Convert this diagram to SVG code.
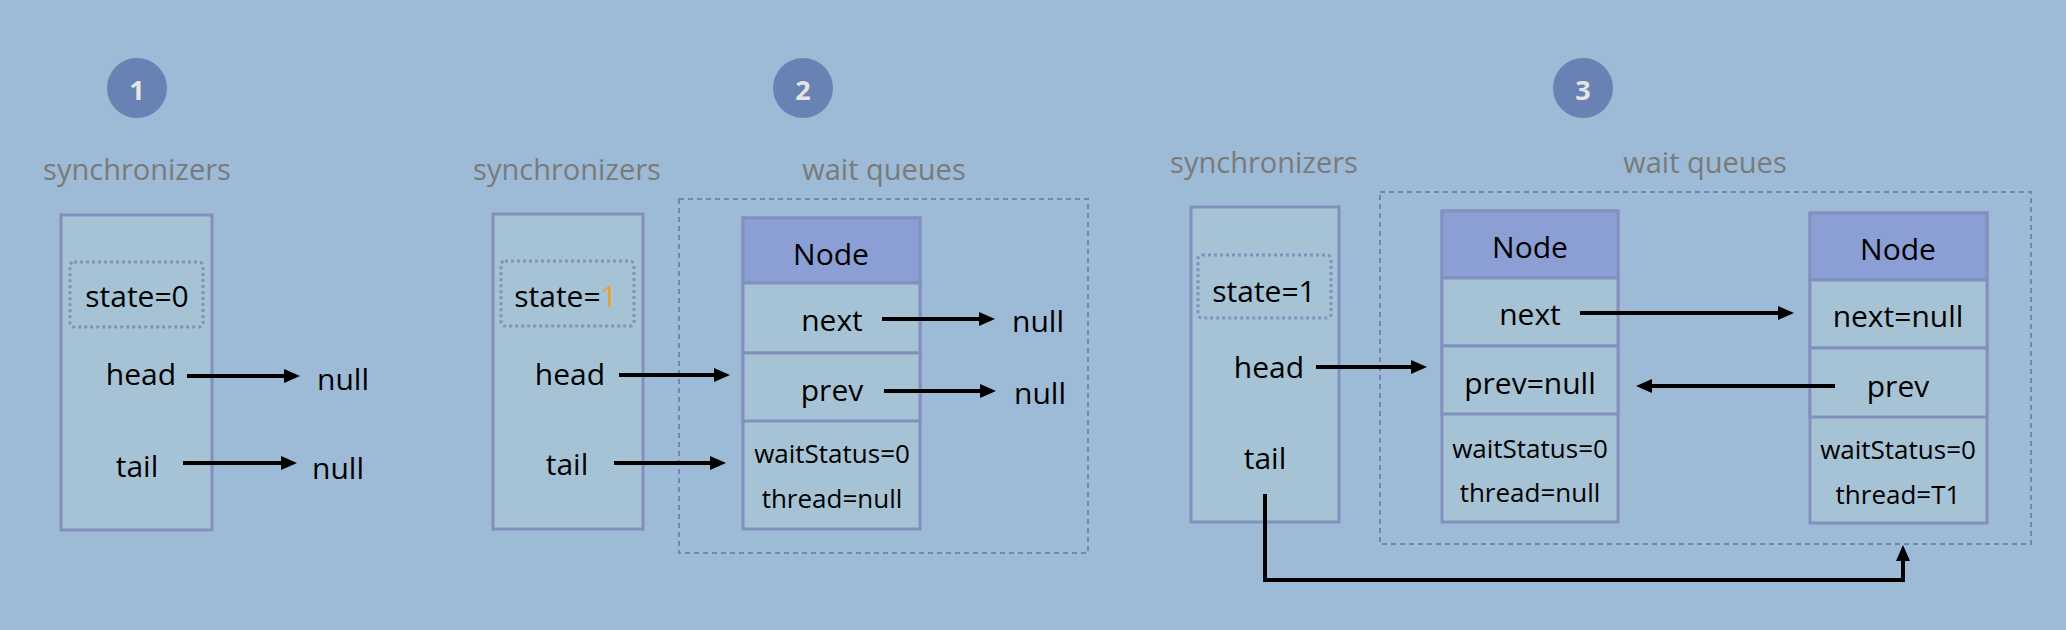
<svg xmlns="http://www.w3.org/2000/svg" width="2066" height="630" viewBox="0 0 2066 630">
<style>
text{font-family:"Open Sans","Liberation Sans",sans-serif;text-anchor:middle;dominant-baseline:central}
.t{font-size:30px;fill:#000}
.s{font-size:26px;fill:#000}
.lbl{font-size:29px;fill:#7a7a7a}
.num{font-size:27px;font-weight:bold;fill:#e4e4e4}
.badge{fill:#6883b3}
.box{fill:#a6c3d6;stroke:#8390be;stroke-width:3}
.hdr{fill:#8c9fd4;stroke:#8390be;stroke-width:3}
.state{fill:none;stroke:#8390be;stroke-width:3;stroke-dasharray:3 3}
.wq{fill:none;stroke:#6f87b8;stroke-width:2;stroke-dasharray:5 4}
.c{fill:none;stroke:#000;stroke-width:4}
</style>
<defs>
<marker id="ah" viewBox="0 0 16 14" refX="12" refY="7" markerWidth="16" markerHeight="14" markerUnits="userSpaceOnUse" orient="auto">
<path d="M0,0 L16,7 L0,14 Z" fill="#000"/>
</marker>
</defs>
<rect width="2066" height="630" fill="#9dbad6"/>

<!-- Panel 1 -->
<g id="badge1"><circle class="badge" cx="137" cy="88" r="30"/><text class="num" x="137" y="89">1</text></g>
<g id="label-sync1"><text class="lbl" x="137" y="168">synchronizers</text></g>
<g id="sync1">
<rect class="box" x="61" y="215" width="151" height="315"/>
<rect class="state" x="70" y="262" width="133" height="65" rx="4"/>
<text class="t" x="137" y="295">state=0</text>
<text class="t" x="141" y="373">head</text>
<text class="t" x="137" y="465">tail</text>
</g>
<g id="null1a"><text class="t" x="343" y="378">null</text></g>
<g id="null1b"><text class="t" x="338" y="467">null</text></g>

<!-- Panel 2 -->
<g id="badge2"><circle class="badge" cx="803" cy="88" r="30"/><text class="num" x="803" y="89">2</text></g>
<g id="label-sync2"><text class="lbl" x="567" y="168">synchronizers</text></g>
<g id="label-wq2"><text class="lbl" x="884" y="168">wait queues</text></g>
<g id="sync2">
<rect class="box" x="493" y="214" width="150" height="315"/>
<rect class="state" x="501" y="261" width="133" height="65" rx="4"/>
<text class="t" x="566" y="295">state=<tspan fill="#f0a030">1</tspan></text>
<text class="t" x="570" y="373">head</text>
<text class="t" x="567" y="463">tail</text>
</g>
<g id="waitqueue2"><rect class="wq" x="679" y="199" width="409" height="354"/></g>
<g id="node2">
<rect class="box" x="743" y="218" width="177" height="311"/>
<rect class="hdr" x="743" y="218" width="177" height="65"/>
<rect class="box" x="743" y="283" width="177" height="70"/>
<rect class="box" x="743" y="353" width="177" height="68"/>
<text class="t" x="831" y="253">Node</text>
<text class="t" x="832" y="319">next</text>
<text class="t" x="832" y="389">prev</text>
<text class="s" x="832" y="453">waitStatus=0</text>
<text class="s" x="832" y="498">thread=null</text>
</g>
<g id="null2a"><text class="t" x="1038" y="320">null</text></g>
<g id="null2b"><text class="t" x="1040" y="392">null</text></g>

<!-- Panel 3 -->
<g id="badge3"><circle class="badge" cx="1583" cy="88" r="30"/><text class="num" x="1583" y="89">3</text></g>
<g id="label-sync3"><text class="lbl" x="1264" y="161">synchronizers</text></g>
<g id="label-wq3"><text class="lbl" x="1705" y="161">wait queues</text></g>
<g id="sync3">
<rect class="box" x="1191" y="207" width="148" height="315"/>
<rect class="state" x="1198" y="255" width="133" height="63" rx="4"/>
<text class="t" x="1264" y="290">state=1</text>
<text class="t" x="1269" y="366">head</text>
<text class="t" x="1265" y="457">tail</text>
</g>
<g id="waitqueue3"><rect class="wq" x="1380" y="192" width="651" height="352"/></g>
<g id="node3a">
<rect class="box" x="1442" y="211" width="176" height="311"/>
<rect class="hdr" x="1442" y="211" width="176" height="67"/>
<rect class="box" x="1442" y="278" width="176" height="68"/>
<rect class="box" x="1442" y="346" width="176" height="68"/>
<text class="t" x="1530" y="246">Node</text>
<text class="t" x="1530" y="313">next</text>
<text class="t" x="1530" y="382">prev=null</text>
<text class="s" x="1530" y="448">waitStatus=0</text>
<text class="s" x="1530" y="492">thread=null</text>
</g>
<g id="node3b">
<rect class="box" x="1810" y="213" width="177" height="310"/>
<rect class="hdr" x="1810" y="213" width="177" height="67"/>
<rect class="box" x="1810" y="280" width="177" height="68"/>
<rect class="box" x="1810" y="348" width="177" height="69"/>
<text class="t" x="1898" y="248">Node</text>
<text class="t" x="1898" y="315">next=null</text>
<text class="t" x="1898" y="385">prev</text>
<text class="s" x="1898" y="449">waitStatus=0</text>
<text class="s" x="1898" y="494">thread=T1</text>
</g>

<g id="connectors">
<path class="c" d="M187,376 H296" marker-end="url(#ah)"/>
<path class="c" d="M183,463 H293" marker-end="url(#ah)"/>
<path class="c" d="M619,375 H726" marker-end="url(#ah)"/>
<path class="c" d="M614,463 H722" marker-end="url(#ah)"/>
<path class="c" d="M882,319 H991" marker-end="url(#ah)"/>
<path class="c" d="M884,391 H992" marker-end="url(#ah)"/>
<path class="c" d="M1316,367 H1423" marker-end="url(#ah)"/>
<path class="c" d="M1580,313 H1790" marker-end="url(#ah)"/>
<path class="c" d="M1835,386 H1640" marker-end="url(#ah)"/>
<path class="c" d="M1265,494 V580 H1903 V549" marker-end="url(#ah)"/>
</g>
</svg>
